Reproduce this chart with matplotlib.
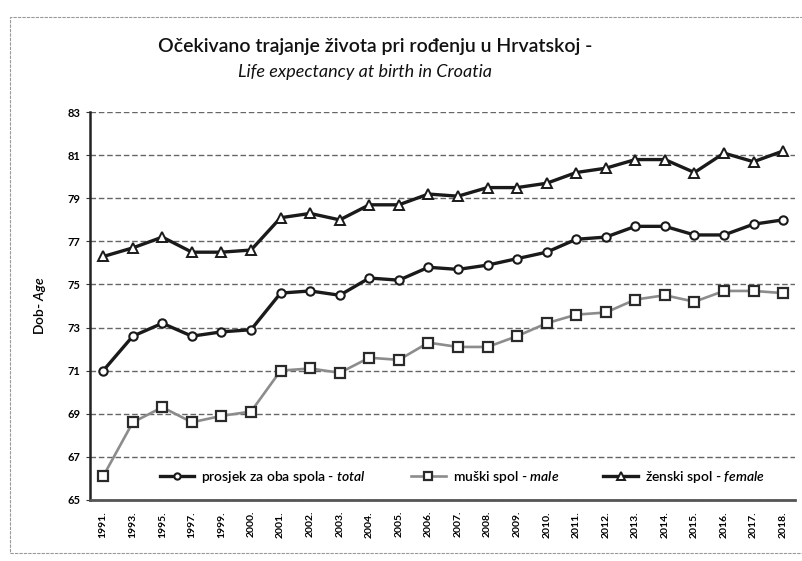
import matplotlib
matplotlib.use("Agg")
import matplotlib.pyplot as plt
from matplotlib.patches import Rectangle

plt.rcParams['font.family'] = ['Lato', 'DejaVu Sans']
plt.rcParams['mathtext.fontset'] = 'custom'
plt.rcParams['mathtext.it'] = 'Lato:italic:semibold'
plt.rcParams['mathtext.rm'] = 'Lato'

years = ["1991.", "1993.", "1995.", "1997.", "1999.", "2000.", "2001.", "2002.",
         "2003.", "2004.", "2005.", "2006.", "2007.", "2008.", "2009.", "2010.",
         "2011.", "2012.", "2013.", "2014.", "2015.", "2016.", "2017.", "2018."]

total = [71.0, 72.6, 73.2, 72.6, 72.8, 72.9, 74.6, 74.7, 74.5, 75.3, 75.2, 75.8,
         75.7, 75.9, 76.2, 76.5, 77.1, 77.2, 77.7, 77.7, 77.3, 77.3, 77.8, 78.0]
male = [66.1, 68.6, 69.3, 68.6, 68.9, 69.1, 71.0, 71.1, 70.9, 71.6, 71.5, 72.3,
        72.1, 72.1, 72.6, 73.2, 73.6, 73.7, 74.3, 74.5, 74.2, 74.7, 74.7, 74.6]
female = [76.3, 76.7, 77.2, 76.5, 76.5, 76.6, 78.1, 78.3, 78.0, 78.7, 78.7, 79.2,
          79.1, 79.5, 79.5, 79.7, 80.2, 80.4, 80.8, 80.8, 80.2, 81.1, 80.7, 81.2]

y_ticks = list(range(65, 84, 2))

fig = plt.figure(figsize=(8.03, 5.61), dpi=100)
ax = fig.add_axes([0.112, 0.109, 0.878, 0.691])

x = range(len(years))
ax.plot(x, total, color='#1a1a1a', lw=2.4, marker='o', ms=6, mfc='white',
        mec='#1a1a1a', mew=1.5, label=r'prosjek za oba spola - $\it{total}$', zorder=4)
ax.plot(x, male, color='#8c8c8c', lw=1.9, marker='s', ms=7, mfc='white',
        mec='#2a2a2a', mew=1.6, label=r'muški spol - $\it{male}$', zorder=3)
ax.plot(x, female, color='#1a1a1a', lw=2.4, marker='^', ms=7, mfc='white',
        mec='#1a1a1a', mew=1.4, label=r'ženski spol - $\it{female}$', zorder=4)

ax.set_ylim(65, 83)
ax.set_xlim(-0.45, 23.4)
ax.set_yticks(y_ticks)
ax.set_yticklabels([str(v) for v in y_ticks], fontsize=8, fontweight='bold')
ax.set_xticks(list(x))
ax.set_xticklabels(years, rotation=90, fontsize=7.5, fontweight='bold')
ax.tick_params(axis='both', length=3, color='#333333', pad=4)
ax.tick_params(axis='x', length=0, pad=8)

for v in y_ticks:
    ax.axhline(v, color='#666666', lw=1.0, ls=(0, (4, 2)), zorder=1)

for s in ['top', 'right']:
    ax.spines[s].set_visible(False)
ax.spines['left'].set_linewidth(1.8)
ax.spines['left'].set_color('#222222')
ax.spines['bottom'].set_linewidth(2.0)
ax.spines['bottom'].set_color('#555555')

ax.set_ylabel(r'Dob- $\it{Age}$', fontsize=10, fontweight='semibold', labelpad=14)

leg = ax.legend(loc='center', bbox_to_anchor=(0.528, 0.06), ncol=3, frameon=False,
                prop={'size': 10, 'weight': 'semibold'}, handlelength=2.5,
                columnspacing=3.2, handletextpad=0.5, markerscale=0.75)

fig.text(0.467, 0.918, 'Očekivano trajanje života pri rođenju u Hrvatskoj -',
         ha='center', va='center', fontsize=14, fontweight='semibold', color='#111111')
fig.text(0.455, 0.872, 'Life expectancy at birth in Croatia', ha='center',
         va='center', fontsize=13, style='italic', color='#111111')

fig.patches.append(Rectangle((0.012, 0.015), 1.2, 0.955, transform=fig.transFigure,
                             fill=False, ec='#999999', lw=0.8, ls=(0, (3, 1))))

fig.savefig('out.png', dpi=100)
